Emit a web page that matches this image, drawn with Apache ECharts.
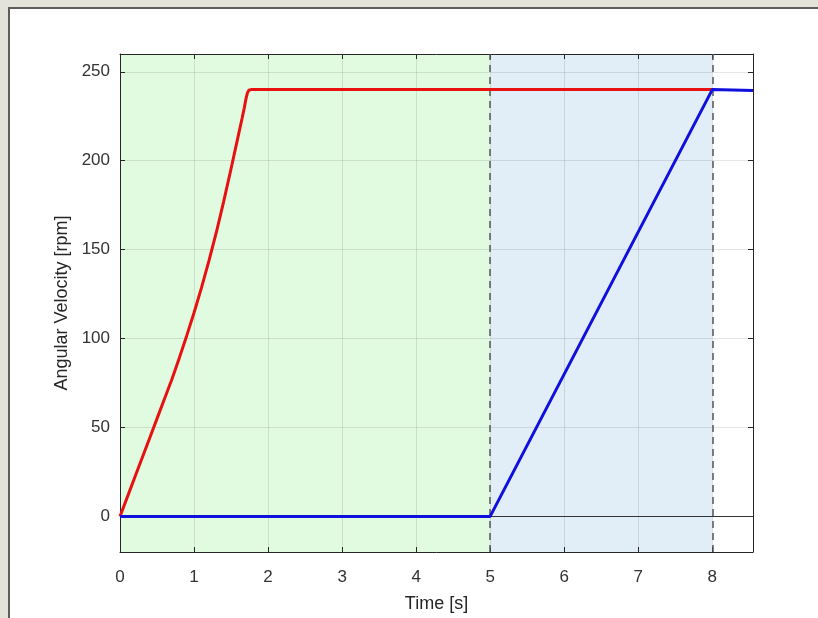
<!DOCTYPE html>
<html><head><meta charset="utf-8">
<script src="https://cdn.jsdelivr.net/npm/echarts@6/dist/echarts.min.js"></script>
<style>
html,body{margin:0;padding:0;background:#e3e3da;width:818px;height:618px;overflow:hidden;position:relative;}
#frame{position:absolute;left:8px;top:7px;width:830px;height:630px;background:#fff;border-left:2px solid #5d5d5d;border-top:2px solid #5d5d5d;}
#chart{position:absolute;left:0;top:0;width:818px;height:618px;}
</style></head><body>
<div id="frame"></div><div id="chart"></div>
<script>
// Red curve (first phase: accelerate to 240 rpm)
const redTime  = [0, 0.1, 0.2, 0.3, 0.4, 0.5, 0.6, 0.7, 0.8, 0.9, 1.0, 1.1, 1.2, 1.3, 1.4, 1.5, 1.6, 1.65, 1.68, 1.70, 1.72, 1.74, 1.77, 8];
const redSpeed = [0, 11, 22, 33, 44, 55, 66, 77, 89, 101.5, 114.5, 128.5, 143.5, 159.5, 177, 195.5, 214.5, 224, 230, 234.5, 238, 239.6, 240, 240];
// Blue curve (second phase: ramp from 5 s to 8 s)
const blueTime  = [0, 5, 8, 8.55];
const blueSpeed = [0, 0, 240, 239.5];
// Shaded phases and markers
const phase1 = [0, 5];
const phase2 = [5, 8];
const markerTimes = [5, 8];
const xRange = [0, 8.55];
const yRange = [-20, 260];

const axisColor = '#262626';
const font = 'Liberation Sans, Arial, Helvetica, sans-serif';
const chart = echarts.init(document.getElementById('chart'), null, {renderer:'canvas'});
const zip = (a,b)=>a.map((v,i)=>[v,b[i]]);

chart.setOption({
  backgroundColor: 'transparent',
  animation: false,
  grid: {left: 120, top: 54, right: 65, bottom: 65, containLabel: false},
  xAxis: [{
    type: 'value', min: xRange[0], max: xRange[1], interval: 1, z: 1.5,
    name: 'Time [s]', nameLocation: 'middle', nameGap: 43,
    nameTextStyle: {color: axisColor, fontSize: 18, fontFamily: font},
    axisLine: {show: true, onZero: false, lineStyle: {color: axisColor, width: 1}},
    axisTick: {show: true, inside: true, length: 5, lineStyle: {color: axisColor}},
    axisLabel: {color: '#333', fontSize: 17, fontFamily: font, margin: 17, showMaxLabel: false,
      formatter: v => (Math.abs(v - Math.round(v)) < 1e-9 ? String(Math.round(v)) : '')},
    splitLine: {show: true, lineStyle: {color: 'rgba(0,0,0,0.1)', width: 1}}
  }, {
    type: 'value', position: 'top', min: xRange[0], max: xRange[1], interval: 1, z: 1.5,
    axisLine: {show: true, onZero: false, lineStyle: {color: axisColor, width: 1}},
    axisTick: {show: true, inside: true, length: 5, lineStyle: {color: axisColor}},
    axisLabel: {show: false}, splitLine: {show: false}
  }],
  yAxis: [{
    type: 'value', min: yRange[0], max: yRange[1], splitNumber: 5, z: 1.5,
    name: 'Angular Velocity [rpm]', nameLocation: 'middle', nameGap: 45,
    nameTextStyle: {color: axisColor, fontSize: 18, fontFamily: font},
    axisLine: {show: true, onZero: false, lineStyle: {color: axisColor, width: 1}},
    axisTick: {show: true, inside: true, length: 5, lineStyle: {color: axisColor}},
    axisLabel: {color: '#333', fontSize: 17, fontFamily: font, margin: 10, showMinLabel: false, showMaxLabel: false,
      formatter: v => (v % 50 === 0 ? String(v) : '')},
    splitLine: {show: true, lineStyle: {color: 'rgba(0,0,0,0.1)', width: 1}}
  }, {
    type: 'value', position: 'right', min: yRange[0], max: yRange[1], splitNumber: 5, z: 1.5,
    axisLine: {show: true, onZero: false, lineStyle: {color: axisColor, width: 1}},
    axisTick: {show: true, inside: true, length: 5, lineStyle: {color: axisColor}},
    axisLabel: {show: false}, splitLine: {show: false}
  }],
  series: [{
    type: 'line', data: [], z: 1, silent: true,
    markArea: {silent: true, z: 1, data: [
      [{xAxis: phase1[0], itemStyle: {color: '#e0fbe0', opacity: 1}}, {xAxis: phase1[1]}],
      [{xAxis: phase2[0], itemStyle: {color: '#e1edf7', opacity: 1}}, {xAxis: phase2[1]}]
    ]},
    markLine: {silent: true, z: 1.8, symbol: 'none', label: {show: false},
      data: [
        {yAxis: 0, lineStyle: {color: '#333', width: 1, type: 'solid'}},
        ...markerTimes.map(t => ({xAxis: t, lineStyle: {color: '#555', width: 1.5, type: [7, 5]}}))
      ]}
  }, {
    name: 'red', type: 'line', data: zip(redTime, redSpeed), z: 2,
    showSymbol: false, symbol: 'none', smooth: false,
    lineStyle: {color: '#e81010', width: 3}
  }, {
    name: 'blue', type: 'line', data: zip(blueTime, blueSpeed), z: 3,
    showSymbol: false, symbol: 'none',
    lineStyle: {color: '#1010dd', width: 3}
  }]
});
</script>
</body></html>
